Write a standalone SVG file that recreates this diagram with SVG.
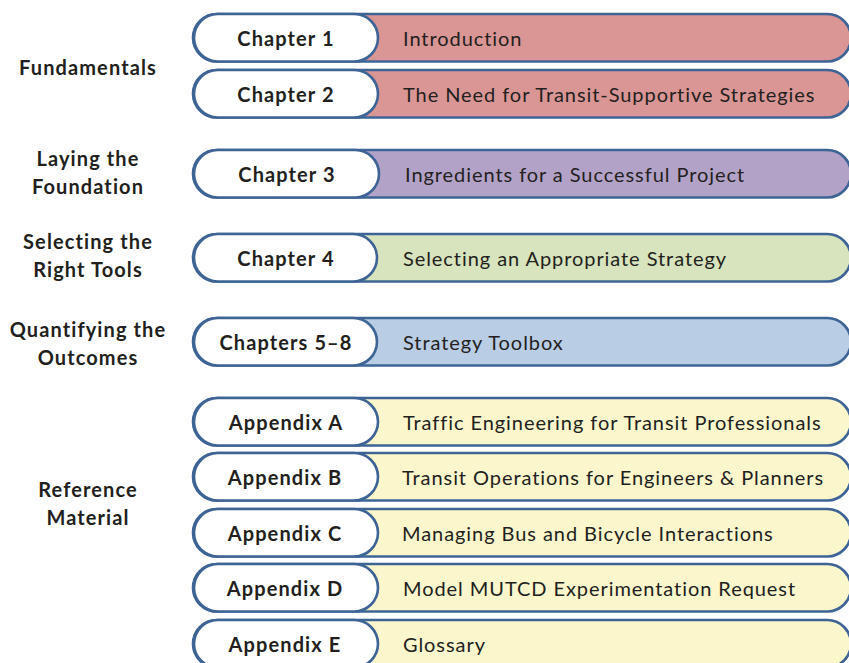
<svg xmlns="http://www.w3.org/2000/svg" width="849" height="663" viewBox="0 0 849 663">
<style>
.outer{stroke:#3e6496;stroke-width:2.6}
.pill{fill:#ffffff;stroke:#3e6496;stroke-width:2.6}
.red{fill:#d99694}.purple{fill:#b3a2c7}.green{fill:#d7e4bd}.blue{fill:#b9cde5}.yellow{fill:#fcf6cc}
.lab,.cap{font-family:Lato,"Liberation Sans",sans-serif;font-weight:bold;font-size:20px;letter-spacing:1.1px;fill:#231f20;text-anchor:middle}
.desc{font-family:Lato,"Liberation Sans",sans-serif;font-size:20px;letter-spacing:0.93px;fill:#231f20}
</style>
<rect width="849" height="663" fill="#ffffff"/>
<g id="sections">
<text class="lab" x="88" y="75">Fundamentals</text>
<text class="lab" x="88" y="166">Laying the</text>
<text class="lab" x="88" y="194">Foundation</text>
<text class="lab" x="88" y="249">Selecting the</text>
<text class="lab" x="88" y="277">Right Tools</text>
<text class="lab" x="88" y="337">Quantifying the</text>
<text class="lab" x="88" y="365">Outcomes</text>
<text class="lab" x="88" y="497">Reference</text>
<text class="lab" x="88" y="525">Material</text>
</g>
<g id="ch1">
<rect class="outer red" x="193" y="14" width="658" height="47.5" rx="23.75"/>
<rect class="pill" x="194" y="14" width="184" height="47.5" rx="23.75"/>
<text class="cap" x="286" y="46">Chapter 1</text>
<text class="desc" x="403" y="46">Introduction</text>
</g>
<g id="ch2">
<rect class="outer red" x="193" y="70" width="658" height="47.5" rx="23.75"/>
<rect class="pill" x="194" y="70" width="184" height="47.5" rx="23.75"/>
<text class="cap" x="286" y="102">Chapter 2</text>
<text class="desc" x="403" y="102">The Need for Transit-Supportive Strategies</text>
</g>
<g id="ch3">
<rect class="outer purple" x="193" y="150" width="658" height="47.5" rx="23.75"/>
<rect class="pill" x="194" y="150" width="185" height="47.5" rx="23.75"/>
<text class="cap" x="287" y="182">Chapter 3</text>
<text class="desc" x="405" y="182">Ingredients for a Successful Project</text>
</g>
<g id="ch4">
<rect class="outer green" x="193" y="234" width="658" height="47.5" rx="23.75"/>
<rect class="pill" x="194" y="234" width="183" height="47.5" rx="23.75"/>
<text class="cap" x="286" y="266">Chapter 4</text>
<text class="desc" x="403" y="266">Selecting an Appropriate Strategy</text>
</g>
<g id="ch5">
<rect class="outer blue" x="193" y="318" width="658" height="47.5" rx="23.75"/>
<rect class="pill" x="194" y="318" width="183" height="47.5" rx="23.75"/>
<text class="cap" x="286" y="350">Chapters 5–8</text>
<text class="desc" x="403" y="350">Strategy Toolbox</text>
</g>
<g id="appA">
<rect class="outer yellow" x="193" y="398" width="658" height="47.5" rx="23.75"/>
<rect class="pill" x="194" y="398" width="184" height="47.5" rx="23.75"/>
<text class="cap" x="286" y="430">Appendix A</text>
<text class="desc" x="403" y="430">Traffic Engineering for Transit Professionals</text>
</g>
<g id="appB">
<rect class="outer yellow" x="193" y="453" width="658" height="47.5" rx="23.75"/>
<rect class="pill" x="194" y="453" width="184" height="47.5" rx="23.75"/>
<text class="cap" x="285" y="485">Appendix B</text>
<text class="desc" x="402" y="485">Transit Operations for Engineers &amp; Planners</text>
</g>
<g id="appC">
<rect class="outer yellow" x="193" y="509" width="658" height="47.5" rx="23.75"/>
<rect class="pill" x="194" y="509" width="184" height="47.5" rx="23.75"/>
<text class="cap" x="285" y="541">Appendix C</text>
<text class="desc" x="402" y="541">Managing Bus and Bicycle Interactions</text>
</g>
<g id="appD">
<rect class="outer yellow" x="193" y="564" width="658" height="47.5" rx="23.75"/>
<rect class="pill" x="194" y="564" width="184" height="47.5" rx="23.75"/>
<text class="cap" x="285" y="596">Appendix D</text>
<text class="desc" x="403" y="596">Model MUTCD Experimentation Request</text>
</g>
<g id="appE">
<rect class="outer yellow" x="193" y="620" width="658" height="47.5" rx="23.75"/>
<rect class="pill" x="194" y="620" width="184" height="47.5" rx="23.75"/>
<text class="cap" x="285" y="652">Appendix E</text>
<text class="desc" x="403" y="652">Glossary</text>
</g>
<g id="connectors"></g>
</svg>
